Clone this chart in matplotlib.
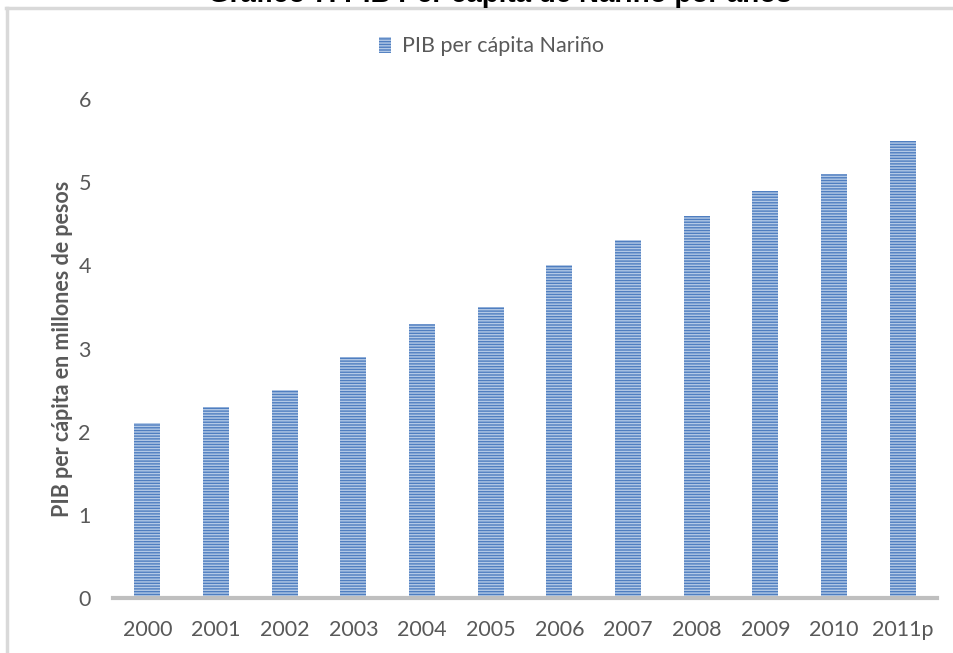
import matplotlib.pyplot as plt
from matplotlib.lines import Line2D

# PIB per capita Narino, millones de pesos
years = ['2000', '2001', '2002', '2003', '2004', '2005', '2006', '2007', '2008', '2009', '2010', '2011p']
pib = [2.1, 2.3, 2.5, 2.9, 3.3, 3.5, 4.0, 4.3, 4.6, 4.9, 5.1, 5.5]

plt.rcParams['hatch.linewidth'] = 1.0
plt.rcParams['font.family'] = ['Lato', 'DejaVu Sans']

fig = plt.figure(figsize=(9.54, 6.53), dpi=100)
ax = fig.add_axes([0.1185, 0.0842, 0.8637, 0.764])

x = range(len(years))
ax.bar(x, pib, width=0.38, color='#4f7ec0', edgecolor='#b3c9e6', hatch='------',
       linewidth=0, label='PIB per cápita Nariño')

ax.set_xlim(-0.5, 11.5)
ax.set_ylim(0, 6)
ax.set_xticks(list(x))
ax.set_xticklabels(years)
ax.set_yticks(range(7))
ax.tick_params(length=0, labelsize=15.5, colors='#595959', pad=16)
ax.tick_params(axis='y', pad=16)
for s in ['top', 'right', 'left']:
    ax.spines[s].set_visible(False)
ax.spines['bottom'].set_color('#bfbfbf')
ax.spines['bottom'].set_linewidth(3)

ax.set_ylabel('PIB per cápita en millones de pesos', fontsize=15.5, fontweight='bold',
              color='#595959', labelpad=4)

leg = fig.legend(loc='center', bbox_to_anchor=(0.515, 0.929), frameon=False,
                 fontsize=15.5, handlelength=0.55, handleheight=0.8, handletextpad=0.5)
for t in leg.get_texts():
    t.set_color('#595959')

# outer frame of the chart area
fig.add_artist(Line2D([0.0063, 1.0], [0.9877, 0.9877], color='#d9d9d9', lw=2.5))
fig.add_artist(Line2D([0.0073, 0.0073], [0.0, 0.9877], color='#d9d9d9', lw=2.5))

# title cut off at the top
fig.text(0.524, 0.9975, 'Gráfico 7. PIB Per cápita de Nariño por años', ha='center',
         va='baseline', fontsize=20, fontweight='bold', family='Liberation Sans', color='black')

fig.savefig('out.png', dpi=100)
